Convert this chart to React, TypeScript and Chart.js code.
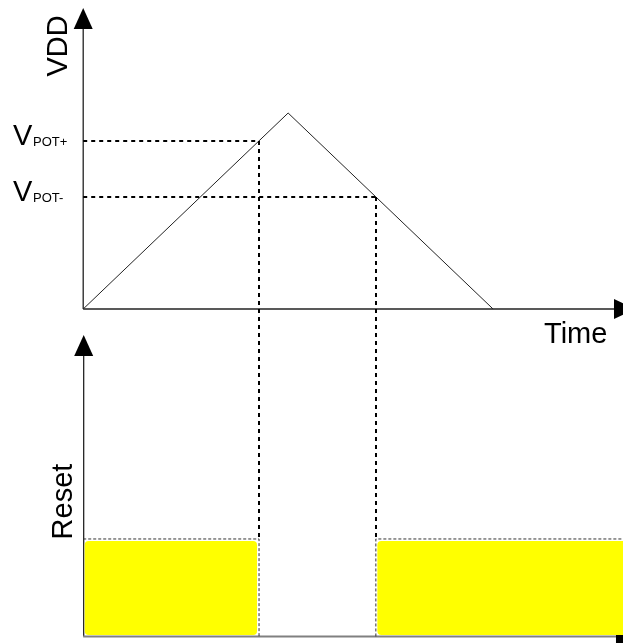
import React, { useEffect, useRef } from "react";
import { Chart, registerables } from "chart.js";
Chart.register(...registerables);

// ---- data ----
const vddTimes = [0, 5, 10];
const vddValues = [0, 3.5, 0];
const thresholdNames = ["POT+", "POT-"];
const thresholdValues = [3.0, 2.0];
const thresholdCrossTimes = [4.29, 7.14];
const resetTimes = [0, 4.29, 4.29, 7.14, 7.14, 14];
const resetValues = [1, 1, 0, 0, 1, 1];
const resetHighStarts = [0, 7.14];
const resetHighEnds = [4.29, 14];
const axisTitles = { vdd: "VDD", time: "Time", reset: "Reset" };

const W = 623;
const H = 643;
const FONT = "'Liberation Sans', Arial, sans-serif";

const diagramPlugin = {
  id: "diagram",
  beforeDatasetsDraw(chart: any) {
    const { ctx } = chart;
    const xs = chart.scales.x;
    const yV = chart.scales.yV;
    const yR = chart.scales.yR;
    const x0 = xs.getPixelForValue(0);
    const xEnd = xs.getPixelForValue(12.95);
    const yV0 = yV.getPixelForValue(0);
    const yR0 = yR.getPixelForValue(0);
    ctx.save();
    // top y axis
    ctx.strokeStyle = "#222";
    ctx.lineWidth = 1.3;
    ctx.beginPath();
    ctx.moveTo(x0, yV0);
    ctx.lineTo(x0, 28);
    ctx.stroke();
    // top x axis
    ctx.beginPath();
    ctx.moveTo(x0, yV0);
    ctx.lineTo(xEnd, yV0);
    ctx.stroke();
    // bottom y axis
    ctx.strokeStyle = "#111";
    ctx.lineWidth = 1.2;
    ctx.beginPath();
    ctx.moveTo(x0 + 0.5, yR0);
    ctx.lineTo(x0 + 0.5, 355);
    ctx.stroke();
    // bottom x axis
    ctx.strokeStyle = "#808080";
    ctx.lineWidth = 2;
    ctx.beginPath();
    ctx.moveTo(x0, yR0);
    ctx.lineTo(xEnd + 2, yR0);
    ctx.stroke();
    // arrows
    ctx.fillStyle = "#000";
    const up = (cx: number, tip: number) => {
      ctx.beginPath();
      ctx.moveTo(cx, tip);
      ctx.lineTo(cx + 9.5, tip + 21);
      ctx.lineTo(cx - 9.5, tip + 21);
      ctx.closePath();
      ctx.fill();
    };
    const right = (base: number, cy: number) => {
      ctx.beginPath();
      ctx.moveTo(base, cy - 10);
      ctx.lineTo(base + 21, cy);
      ctx.lineTo(base, cy + 10);
      ctx.closePath();
      ctx.fill();
    };
    up(x0, 8);
    up(x0 + 0.5, 335);
    right(xEnd, yV0);
    right(xEnd + 2, yR0);
    ctx.restore();
  },
  afterDatasetsDraw(chart: any) {
    const { ctx } = chart;
    const xs = chart.scales.x;
    const yV = chart.scales.yV;
    const yR = chart.scales.yR;
    ctx.save();
    // vertical dashed lines from threshold crossings down to reset level
    ctx.strokeStyle = "#000";
    ctx.lineWidth = 2;
    ctx.setLineDash([4, 4]);
    thresholdCrossTimes.forEach((t, i) => {
      const px = Math.round(xs.getPixelForValue(t));
      ctx.beginPath();
      ctx.moveTo(px, yV.getPixelForValue(thresholdValues[i]));
      ctx.lineTo(px, yR.getPixelForValue(1) - 2);
      ctx.stroke();
    });
    ctx.setLineDash([]);
    // yellow reset-high blocks
    ctx.fillStyle = "#ffff00";
    resetHighStarts.forEach((s, i) => {
      const xa = xs.getPixelForValue(s) + 1.5;
      const xb = xs.getPixelForValue(resetHighEnds[i]) - 2;
      const ya = yR.getPixelForValue(1) + 2;
      const yb = yR.getPixelForValue(0) - 1.5;
      ctx.beginPath();
      (ctx as any).roundRect(xa, ya, xb - xa, yb - ya, 4);
      ctx.fill();
    });
    // labels
    ctx.fillStyle = "#000";
    ctx.textBaseline = "alphabetic";
    ctx.font = `29px ${FONT}`;
    ctx.textAlign = "left";
    ctx.fillText(axisTitles.time, 544, 343);
    thresholdNames.forEach((name, i) => {
      const py = yV.getPixelForValue(thresholdValues[i]);
      ctx.font = `29px ${FONT}`;
      ctx.fillText("V", 13, py + 4);
      ctx.font = `13px ${FONT}`;
      ctx.fillText(name, 33, py + 5);
    });
    ctx.font = `29px ${FONT}`;
    ctx.textAlign = "center";
    const rot = (txt: string, bx: number, cy: number) => {
      ctx.save();
      ctx.translate(bx, cy);
      ctx.rotate(-Math.PI / 2);
      ctx.fillText(txt, 0, 0);
      ctx.restore();
    };
    rot(axisTitles.vdd, 67, 46);
    rot(axisTitles.reset, 72, 501.5);
    ctx.restore();
  },
};

export default function App() {
  const ref = useRef<HTMLCanvasElement | null>(null);
  useEffect(() => {
    if (!ref.current) return;
    const chart = new Chart(ref.current, {
      type: "line",
      data: {
        datasets: [
          {
            data: vddTimes.map((t, i) => ({ x: t, y: vddValues[i] })),
            yAxisID: "yV",
            borderColor: "#222",
            borderWidth: 1,
            pointRadius: 0,
            tension: 0,
          },
          ...thresholdValues.map((v, i) => ({
            data: [
              { x: 0, y: v },
              { x: thresholdCrossTimes[i], y: v },
            ],
            yAxisID: "yV",
            borderColor: "#000",
            borderWidth: 2,
            borderDash: [4, 4],
            pointRadius: 0,
          })),
          {
            data: resetTimes.map((t, i) => ({ x: t, y: resetValues[i] })),
            yAxisID: "yR",
            borderColor: "#333",
            borderWidth: 1,
            borderDash: [3, 2],
            pointRadius: 0,
            segment: {
              borderColor: (c: any) =>
                c.p0.parsed.y === 0 && c.p1.parsed.y === 0 ? "rgba(0,0,0,0)" : "#333",
            },
          },
        ] as any,
      },
      options: {
        animation: false,
        responsive: false,
        events: [],
        layout: { padding: 0 },
        plugins: { legend: { display: false }, tooltip: { enabled: false } },
        scales: {
          x: { type: "linear", display: false, min: -2.03, max: 13.17 },
          yV: { type: "linear", display: false, min: -5.964, max: 5.518 },
          yR: { type: "linear", display: false, min: -0.067, max: 6.528 },
        },
      },
      plugins: [diagramPlugin],
    });
    return () => chart.destroy();
  }, []);
  return (
    <div style={{ position: "fixed", left: 0, top: 0, width: W, height: H, background: "#fff" }}>
      <canvas ref={ref} width={W} height={H} style={{ display: "block" }} />
    </div>
  );
}
